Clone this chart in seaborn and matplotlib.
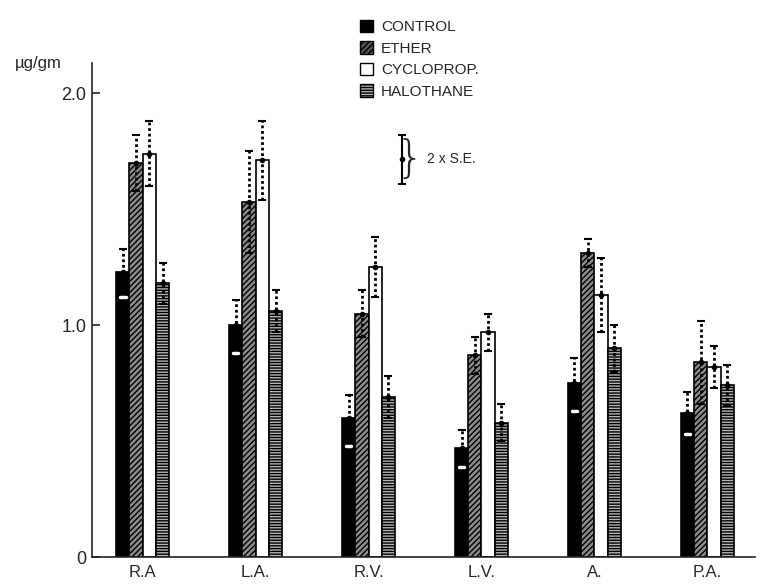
import pandas as pd
import matplotlib.pyplot as plt
import matplotlib.patches as mpatches
import seaborn as sns

# values (ug/gm)
regions = ["R.A", "L.A.", "R.V.", "L.V.", "A.", "P.A."]
agents = ["CONTROL", "ETHER", "CYCLOPROP.", "HALOTHANE"]

control = [1.23, 1.00, 0.60, 0.47, 0.75, 0.62]
ether = [1.70, 1.53, 1.05, 0.87, 1.31, 0.84]
cycloprop = [1.74, 1.71, 1.25, 0.97, 1.13, 0.82]
halothane = [1.18, 1.06, 0.69, 0.58, 0.90, 0.74]

# 2 x S.E. half-lengths
control_se = [0.10, 0.11, 0.10, 0.08, 0.11, 0.09]
ether_se = [0.12, 0.22, 0.10, 0.08, 0.06, 0.18]
cycloprop_se = [0.14, 0.17, 0.13, 0.08, 0.16, 0.09]
halothane_se = [0.09, 0.09, 0.09, 0.08, 0.10, 0.09]

# white marks inside control bars
control_marks = [1.12, 0.88, 0.48, 0.39, 0.63, 0.53]

# scale key (2 x S.E.)
key_mean = 1.715
key_se = 0.105

values = [control, ether, cycloprop, halothane]
errors = [control_se, ether_se, cycloprop_se, halothane_se]

rows = []
for agent, vals in zip(agents, values):
    for reg, v in zip(regions, vals):
        rows.append({"region": reg, "agent": agent, "value": v})
df = pd.DataFrame(rows)

sns.set_style("ticks")
plt.rcParams["font.family"] = ["Liberation Sans", "DejaVu Sans"]

fig = plt.figure(figsize=(7.6, 5.84), dpi=100)
ax = fig.add_axes([0.121, 0.046, 0.872, 0.846])

face = {"CONTROL": "black", "ETHER": "#8c8c8c", "CYCLOPROP.": "white", "HALOTHANE": "#b5b5b5"}
hatch = {"CONTROL": None, "ETHER": "//////", "CYCLOPROP.": None, "HALOTHANE": "------"}

sns.barplot(data=df, x="region", y="value", hue="agent", hue_order=agents,
            order=regions, palette=face, width=0.47, gap=0.0,
            edgecolor="black", linewidth=1.2, legend=False, ax=ax)

n = len(regions)
for i, agent in enumerate(agents):
    bars = ax.patches[i * n:(i + 1) * n]
    xs = []
    for p in bars:
        p.set_edgecolor("black")
        if hatch[agent]:
            p.set_hatch(hatch[agent])
        xs.append(p.get_x() + p.get_width() / 2)
    eb = ax.errorbar(xs, values[i], yerr=errors[i], fmt="o", ms=3, color="black",
                     ecolor="black", elinewidth=2, capsize=3, capthick=1.5)
    eb[2][0].set_linestyle((0, (1, 1)))
    if agent == "CONTROL":
        w = bars[0].get_width()
        for x, m in zip(xs, control_marks):
            ax.plot([x - w * 0.2, x + w * 0.2], [m, m], color="white", lw=2.5)

# scale key
key_x = 2.30
eb = ax.errorbar([key_x], [key_mean], yerr=[key_se], fmt="o", ms=3, color="black",
                 elinewidth=1.5, capsize=3, capthick=1.5)
ax.text(key_x + 0.19, key_mean, "}", fontsize=32, va="center", ha="right",
        family="DejaVu Sans", fontweight="light")
ax.text(key_x + 0.22, key_mean, "2 x S.E.", fontsize=10, va="center", ha="left")

ax.set_xlim(-0.45, 5.42)
ax.set_ylim(0, 2.13)
ax.set_yticks([0, 1.0, 2.0])
ax.set_yticklabels(["0", "1.0", "2.0"], fontsize=13)
ax.tick_params(axis="y", direction="in", length=6, width=1.2, pad=4)
ax.tick_params(axis="x", length=0, labelsize=12, pad=6)
ax.set_xlabel("")
ax.set_ylabel("")
sns.despine(ax=ax)
for s in ["left", "bottom"]:
    ax.spines[s].set_linewidth(1.2)

fig.text(0.02, 0.878, "\u00b5g/gm", fontsize=12, ha="left", va="bottom")

handles = []
for agent in agents:
    handles.append(mpatches.Patch(facecolor=face[agent] if agent != "ETHER" else "#555555",
                                  edgecolor="black", hatch=hatch[agent], label=agent))
fig.legend(handles=handles, loc="upper left", bbox_to_anchor=(0.455, 0.99),
           frameon=False, fontsize=11, handlelength=0.9, handleheight=0.9,
           labelspacing=0.45, handletextpad=0.5)

fig.savefig("out.png", dpi=100)
